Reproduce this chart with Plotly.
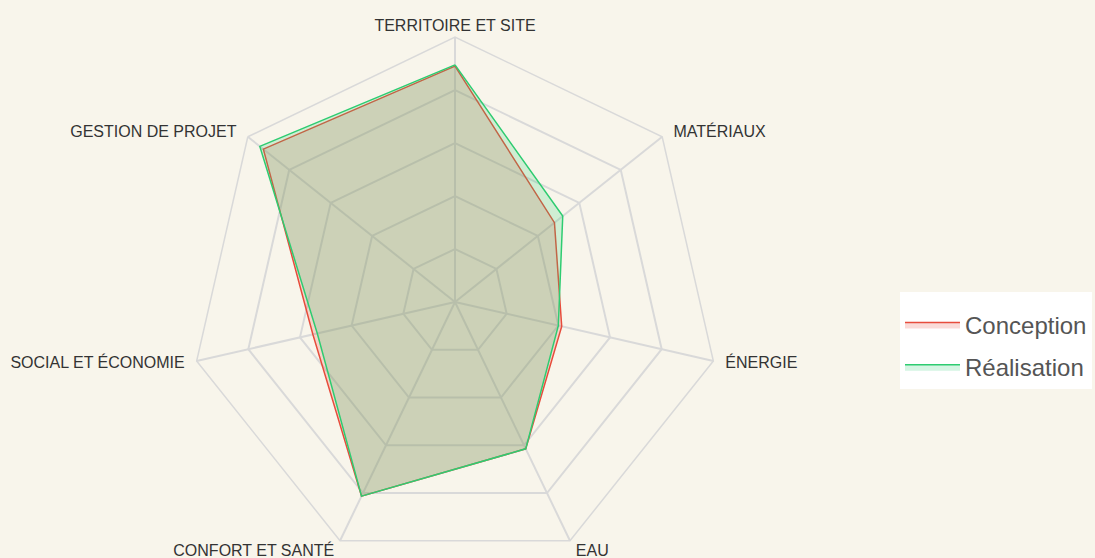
import plotly.graph_objects as go

categories = ["TERRITOIRE ET SITE", "MATÉRIAUX", "ÉNERGIE", "EAU",
              "CONFORT ET SANTÉ", "SOCIAL ET ÉCONOMIE", "GESTION DE PROJET"]
conception = [89, 48, 41.3, 61.5, 81.3, 55, 92.5]
realisation = [89.5, 52, 40, 61.5, 81.3, 53.3, 94.2]
series_names = ["Conception", "Réalisation"]

W, H = 1095, 572
bg = "#f8f5eb"
grid = "#d9d9d9"

# tick label text: labels on the right get a little leading space, on the left trailing
NB = "\u00a0\u00a0"
ticktext = []
for i, c in enumerate(categories):
    t = c
    if i in (1, 2):
        t = NB + c
    elif i == 3:
        t = "\u00a0" + c
    elif i == 4:
        t = c + "\u00a0"
    elif i in (5, 6):
        t = c + NB
    ticktext.append('<span style="font-size:16px">' + t + "</span>")

fig = go.Figure()
fig.add_trace(go.Scatterpolar(
    r=conception + conception[:1], theta=categories + categories[:1],
    name=series_names[0], mode="lines", fill="toself", legendgroup="c",
    line=dict(color="#e74c3c", width=1.5),
    fillcolor="rgba(231,76,60,0.2)",
))
fig.add_trace(go.Scatterpolar(
    r=realisation + realisation[:1], theta=categories + categories[:1],
    name=series_names[1], mode="lines", fill="toself", legendgroup="r",
    line=dict(color="#2ecc71", width=1.5),
    fillcolor="rgba(46,204,113,0.2)",
))

cx, cy, R = 455, 302, 265
fig.update_layout(
    width=W, height=H,
    margin=dict(l=0, r=0, t=0, b=0),
    paper_bgcolor=bg,
    font=dict(family="Arial, Liberation Sans, sans-serif", color="#333"),
    polar=dict(
        bgcolor=bg,
        gridshape="linear",
        domain=dict(x=[(cx - R) / W, (cx + R) / W], y=[(H - cy - R) / H, (H - cy + R) / H]),
        radialaxis=dict(range=[0, 100], tickvals=[20, 40, 60, 80, 100], showticklabels=False,
                        ticks="", showline=False, gridcolor=grid, gridwidth=1.5,
                        layer="below traces"),
        angularaxis=dict(rotation=90, direction="clockwise", gridcolor=grid, gridwidth=1.5,
                         linecolor=grid, linewidth=1.5, showline=True, ticks="",
                         tickmode="array", tickvals=categories, ticktext=ticktext,
                         layer="below traces",
                         tickfont=dict(size=12, color="#333")),
    ),
    legend=dict(x=900 / W, y=1 - 292 / H, xanchor="left", yanchor="top",
                bgcolor="white", font=dict(size=24, color="#555"),
                title=dict(text="\u00a0", font=dict(size=8)),
                tracegroupgap=8, itemwidth=55),
)

fig.write_html(
    "out.html",
    config={"displayModeBar": False},
    post_script="document.body.style.margin='0';document.body.style.overflow='hidden';",
)
